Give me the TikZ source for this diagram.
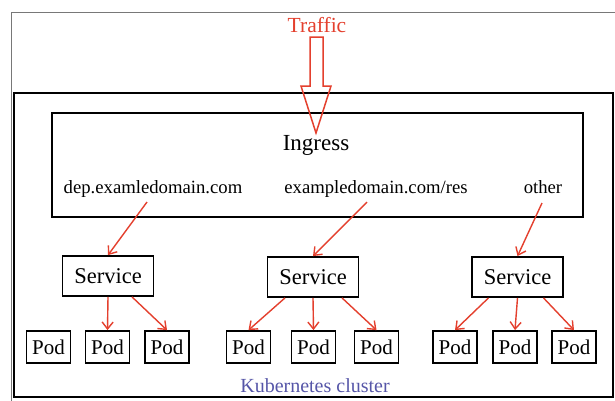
\documentclass[tikz,border=0pt]{standalone}
\usepackage{fontspec}
\setmainfont{Liberation Serif}
\usetikzlibrary{arrows.meta}
\definecolor{tred}{RGB}{228,64,46}
\definecolor{kblue}{RGB}{86,86,168}
\definecolor{frame}{RGB}{120,120,120}
\begin{document}
\begin{tikzpicture}[x=1pt,y=-1pt,
  box/.style={draw=black, line width=1.8pt, inner sep=0pt},
  svc/.style={box, minimum width=91pt, minimum height=40pt, font=\fontsize{22.5}{24}\selectfont},
  pod/.style={box, minimum width=44pt, minimum height=32pt, font=\fontsize{21}{23}\selectfont},
  lbl/.style={anchor=base, inner sep=0pt, font=\fontsize{18.7}{20}\selectfont},
  arr/.style={draw=tred, line width=1.4pt, -{Straight Barb[length=7pt,width=11pt]}},
  bigarrow/.style={draw=tred, line width=1.5pt, line join=miter}
]
\useasboundingbox (0,0) rectangle (615,400);
\clip (0,0) rectangle (615,400);
\fill[white] (0,0) rectangle (615,400);
% outer frame
\draw[frame, line width=0.9pt] (11,12) rectangle (640,420);
% cluster
\node[box, line width=1.8pt, minimum width=599pt, minimum height=304pt] (cluster) at (313.5,245) {};
\node[anchor=base, inner sep=0pt, text=kblue, font=\fontsize{20}{22}\selectfont] (ktxt) at (315,392) {Kubernetes cluster};
% ingress
\node[box, minimum width=531pt, minimum height=104pt] (ingress) at (317.5,165) {};
\node[anchor=base, inner sep=0pt, font=\fontsize{23}{25}\selectfont] (ingtxt) at (316,150) {Ingress};
\node[lbl] (l1) at (153,193) {dep.examledomain.com};
\node[lbl] (l2) at (376,193) {exampledomain.com/res};
\node[lbl] (l3) at (543,193) {other};
% traffic
\node[anchor=base, inner sep=0pt, text=tred, font=\fontsize{21.5}{23}\selectfont] (traffic) at (317,32) {Traffic};
\draw[bigarrow] (310,37) -- (323,37) -- (323,86) -- (331,86) -- (316,133) -- (301,86) -- (310,86) -- cycle;
% services
\node[svc] (s1) at (108,276) {Service};
\node[svc] (s2) at (313,277) {Service};
\node[svc] (s3) at (517.5,277) {Service};
% pods
\node[pod] (p11) at (48.5,347) {Pod};
\node[pod] (p12) at (107.5,347) {Pod};
\node[pod] (p13) at (167,347) {Pod};
\node[pod] (p21) at (248.5,347) {Pod};
\node[pod] (p22) at (313.5,347) {Pod};
\node[pod] (p23) at (376.5,347) {Pod};
\node[pod] (p31) at (455,347) {Pod};
\node[pod] (p32) at (515,347) {Pod};
\node[pod] (p33) at (574,347) {Pod};
% label arrows
\coordinate (a1) at (147,202);
\coordinate (a2) at (367,202);
\coordinate (a3) at (542,203);
\draw[arr] (a1) -- (s1.north);
\draw[arr] (a2) -- (s2.north);
\draw[arr] (a3) -- (s3.north);
% pod arrows
\draw[arr] (s1.south) -- (p12.north);
\draw[arr] ([xshift=24pt]s1.south) -- (p13.north);
\draw[arr] ([xshift=-28pt]s2.south) -- (p21.north);
\draw[arr] (s2.south) -- (p22.north);
\draw[arr] ([xshift=29pt]s2.south) -- (p23.north);
\draw[arr] ([xshift=-29pt]s3.south) -- (p31.north);
\draw[arr] (s3.south) -- (p32.north);
\draw[arr] ([xshift=26pt]s3.south) -- (p33.north);
\end{tikzpicture}
\end{document}
